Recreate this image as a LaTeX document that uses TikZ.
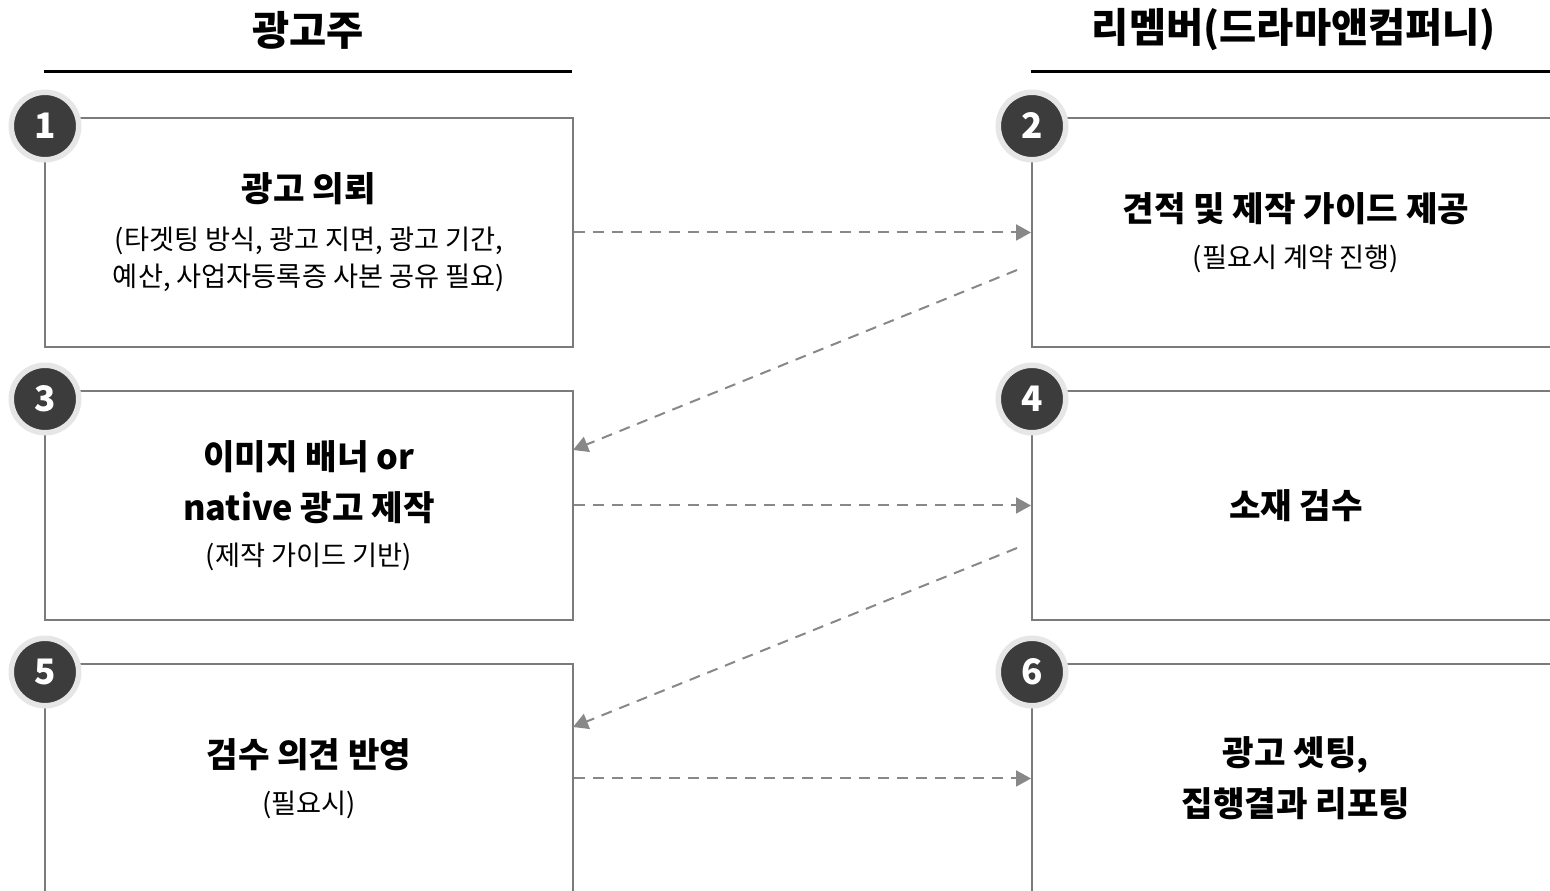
\documentclass[tikz,border=0pt]{standalone}
\usepackage{fontspec}
\setmainfont{Noto Sans CJK KR}
\usetikzlibrary{arrows.meta,calc}
\definecolor{edgegray}{HTML}{7B7B7B}
\definecolor{flowgray}{HTML}{888888}
\definecolor{stepdark}{HTML}{3C3C3C}
\definecolor{stepring}{HTML}{E6E6E6}
\tikzset{
  card/.style={draw=edgegray, line width=0.04cm, minimum width=10.56cm, minimum height=4.58cm,
    anchor=north west, align=center, inner sep=0pt, font=\fontsize{15.5}{21.5}\selectfont},
  badge/.style={circle, fill=stepdark, draw=stepring, line width=0.11cm, minimum size=1.35cm,
    inner sep=0pt, text=white, font=\bfseries\fontsize{20}{20}\selectfont},
  flow/.style={draw=flowgray, line width=0.04cm, dash pattern=on 0.22cm off 0.16cm,
    -{Triangle[length=0.3cm,width=0.32cm]}},
  heading/.style={font=\bfseries\fontsize{23}{28}\selectfont},
}
\newcommand{\hd}[1]{{\bfseries\fontsize{19.5}{29}\selectfont #1}}

\begin{document}
\begin{tikzpicture}[x=0.02cm, y=-0.02cm]
  %%%%% START %%%%%
  \useasboundingbox (0,0) rectangle (1550,891);
  \clip (0,0) rectangle (1550,891);

  % column headings
  \node[heading] (hL) at (308,30) {광고주};
  \node[heading] (hR) at (1294,30) {리멤버(드라마앤컴퍼니)};
  \draw[line width=0.06cm] (44,72) -- (572,72);
  \draw[line width=0.06cm] (1031,72) -- (1550,72);

  % steps
  \node[card] (b1) at (44,117) {\hd{광고 의뢰}\\[5.5pt]
    (타겟팅 방식, 광고 지면, 광고 기간,\\ 예산, 사업자등록증 사본 공유 필요)};
  \node[card] (b2) at (1031,117) {\hd{견적 및 제작 가이드 제공}\\[4.5pt] (필요시 계약 진행)};
  \node[card] (b3) at (44,390) {\hd{이미지 배너 or}\\[7.5pt] \hd{native 광고 제작}\\[4pt] (제작 가이드 기반)};
  \node[card] (b4) at (1031,390) {\hd{소재 검수}};
  \node[card] (b5) at (44,663) {\hd{검수 의견 반영}\\[5pt] (필요시)};
  \node[card] (b6) at (1031,663) {\hd{광고 셋팅,}\\[7.5pt] \hd{집행결과 리포팅}};

  \foreach \n in {1,...,6}
    \node[badge] (c\n) at ([shift={(1,9)}]b\n.north west) {\n};

  % hand-overs
  \coordinate (d2) at (1017,270);
  \coordinate (d3) at (573,450);
  \coordinate (d4) at (1017,548);
  \coordinate (d5) at (573,727);
  \draw[flow] (b1.east) -- (b2.west);
  \draw[flow] (d2) -- (d3);
  \draw[flow] (b3.east) -- (b4.west);
  \draw[flow] (d4) -- (d5);
  \draw[flow] (b5.east) -- (b6.west);
  %%%%% END %%%%%
\end{tikzpicture}
\end{document}
